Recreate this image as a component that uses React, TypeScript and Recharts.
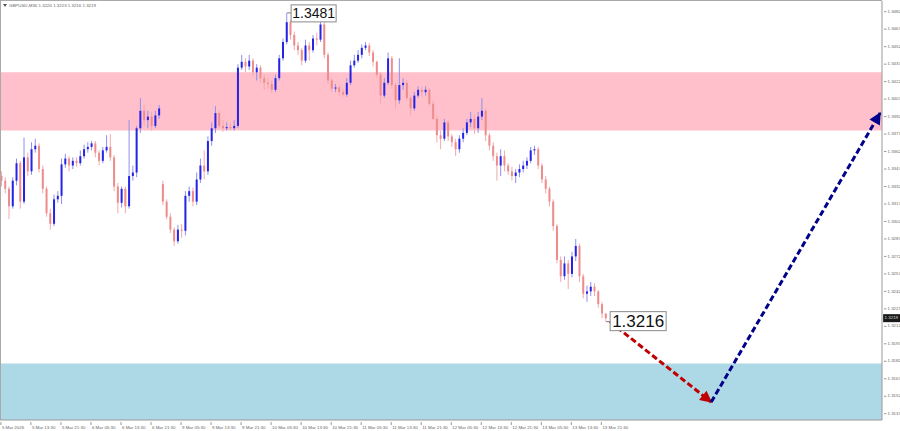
import React from 'react'
import { ComposedChart, Bar, Line, XAxis, YAxis, ReferenceArea, ReferenceDot } from 'recharts'

// hourly candles, 5 Mar 05:30 .. 13 Mar 23:00
const closes = [
  1.3337, 1.333, 1.3315, 1.3337, 1.3352, 1.3319, 1.3357, 1.3345, 1.3364, 1.3367,
  1.3347, 1.333, 1.3309, 1.33, 1.3321, 1.3324, 1.3351, 1.3356, 1.335, 1.3354,
  1.3352, 1.3358, 1.3364, 1.3366, 1.3369, 1.3361, 1.3354, 1.3363, 1.3366, 1.3357,
  1.3332, 1.3318, 1.333, 1.3315, 1.3341, 1.3344, 1.3382, 1.3397, 1.3389, 1.3392,
  1.3384, 1.3393, 1.3399, 1.3319, 1.3306, 1.3295, 1.3285, 1.3295, 1.3294, 1.3324,
  1.3328, 1.3319, 1.3338, 1.335, 1.3345, 1.3371, 1.3382, 1.3395, 1.3384, 1.3382,
  1.3383, 1.3382, 1.3384, 1.3434, 1.3439, 1.3435, 1.344, 1.343, 1.3434, 1.3425,
  1.3421, 1.342, 1.3415, 1.3425, 1.3442, 1.3456, 1.3473, 1.3462, 1.3453, 1.3449,
  1.344, 1.3453, 1.3449, 1.3459, 1.3458, 1.3471, 1.3445, 1.3423, 1.3416, 1.3417,
  1.3413, 1.3411, 1.3421, 1.3436, 1.344, 1.3445, 1.3451, 1.3453, 1.3447, 1.3439,
  1.3428, 1.341, 1.3421, 1.3442, 1.3419, 1.3406, 1.3419, 1.3421, 1.3408, 1.3399,
  1.341, 1.3415, 1.3413, 1.3415, 1.3403, 1.339, 1.3376, 1.3373, 1.3387, 1.3375,
  1.337, 1.3364, 1.3373, 1.3378, 1.3387, 1.339, 1.3382, 1.3392, 1.3397, 1.3376,
  1.3367, 1.3358, 1.335, 1.3358, 1.335, 1.3345, 1.3341, 1.3344, 1.3347, 1.335,
  1.3354, 1.3363, 1.3364, 1.335, 1.3338, 1.333, 1.3319, 1.3298, 1.3269, 1.3255,
  1.3266, 1.3257, 1.3272, 1.3281, 1.3255, 1.324, 1.3242, 1.3246, 1.3242, 1.3231,
  1.3223, 1.3219,
]

const highs = [
  1.3345, 1.334, 1.3332, 1.334, 1.3356, 1.3354, 1.3374, 1.3361, 1.337, 1.3373,
  1.3369, 1.335, 1.3332, 1.3313, 1.3325, 1.3328, 1.3356, 1.336, 1.3358, 1.3357,
  1.3357, 1.3363, 1.3368, 1.337, 1.3371, 1.3371, 1.3363, 1.3366, 1.3376, 1.3377,
  1.3359, 1.3335, 1.3332, 1.3332, 1.3389, 1.335, 1.3384, 1.3408, 1.3402, 1.3397,
  1.3396, 1.3397, 1.3402, 1.3337, 1.3321, 1.3309, 1.3297, 1.3299, 1.33, 1.3328,
  1.3332, 1.3331, 1.3344, 1.3356, 1.3363, 1.3375, 1.3387, 1.3401, 1.3397, 1.3389,
  1.3387, 1.3386, 1.3389, 1.3437, 1.3445, 1.3442, 1.3445, 1.3442, 1.3437, 1.3436,
  1.3428, 1.3425, 1.3423, 1.3428, 1.3445, 1.3459, 1.3481, 1.3475, 1.3465, 1.3456,
  1.3451, 1.3458, 1.3456, 1.3462, 1.3464, 1.3478, 1.3473, 1.3447, 1.3425, 1.342,
  1.3419, 1.3416, 1.3425, 1.344, 1.3445, 1.3449, 1.3454, 1.3456, 1.3455, 1.3449,
  1.344, 1.343, 1.3425, 1.3447, 1.3444, 1.3421, 1.3442, 1.3425, 1.3423, 1.341,
  1.3413, 1.3418, 1.3418, 1.3418, 1.3416, 1.3406, 1.3393, 1.338, 1.339, 1.3389,
  1.3377, 1.3373, 1.3376, 1.3382, 1.339, 1.3396, 1.3393, 1.3396, 1.3408, 1.3399,
  1.3378, 1.337, 1.3361, 1.3364, 1.3363, 1.3352, 1.3349, 1.3347, 1.3351, 1.3354,
  1.3357, 1.3366, 1.3367, 1.3366, 1.3352, 1.3341, 1.3332, 1.3321, 1.33, 1.3272,
  1.3272, 1.3269, 1.3276, 1.3287, 1.3283, 1.3257, 1.3247, 1.325, 1.3249, 1.3243,
  1.3233, 1.3223,
]

const lows = [
  1.3332, 1.3326, 1.3304, 1.3313, 1.3333, 1.3313, 1.3317, 1.3341, 1.3342, 1.3361,
  1.3344, 1.3326, 1.3306, 1.3295, 1.3298, 1.3318, 1.3317, 1.3348, 1.3345, 1.3347,
  1.3349, 1.335, 1.3356, 1.3361, 1.3363, 1.3357, 1.335, 1.3352, 1.3361, 1.3354,
  1.3328, 1.3309, 1.3314, 1.3309, 1.3313, 1.3337, 1.334, 1.3378, 1.3384, 1.3382,
  1.338, 1.3382, 1.339, 1.3316, 1.3304, 1.3292, 1.3281, 1.3283, 1.3288, 1.329,
  1.3319, 1.3315, 1.3316, 1.3335, 1.3338, 1.3342, 1.3367, 1.3378, 1.3382, 1.3379,
  1.338, 1.338, 1.338, 1.3382, 1.3432, 1.343, 1.3432, 1.3427, 1.3423, 1.3421,
  1.3415, 1.3416, 1.3412, 1.3413, 1.3423, 1.344, 1.3454, 1.3458, 1.3449, 1.3445,
  1.3436, 1.3438, 1.344, 1.3447, 1.3453, 1.3456, 1.3442, 1.342, 1.3413, 1.3413,
  1.341, 1.3409, 1.3409, 1.3419, 1.3434, 1.3438, 1.3442, 1.3449, 1.3444, 1.3435,
  1.3425, 1.3403, 1.3408, 1.3419, 1.3416, 1.3399, 1.3403, 1.3415, 1.3406, 1.3393,
  1.3397, 1.3408, 1.3409, 1.341, 1.3401, 1.3389, 1.337, 1.3364, 1.3371, 1.3371,
  1.3366, 1.3358, 1.3361, 1.337, 1.3376, 1.3383, 1.3377, 1.3378, 1.3389, 1.3371,
  1.3363, 1.3354, 1.3337, 1.3341, 1.3345, 1.3342, 1.3337, 1.3335, 1.334, 1.3344,
  1.3347, 1.3352, 1.3359, 1.3347, 1.3335, 1.3326, 1.3315, 1.3294, 1.3266, 1.325,
  1.3252, 1.3244, 1.3254, 1.3268, 1.325, 1.3236, 1.3233, 1.3238, 1.3238, 1.3228,
  1.3219, 1.3216,
]

const firstOpen = 1.3341
const weekendGapAt = 43
const weekendGapOpen = 1.3334

const timeLabels = [
  '5 Mar 2026', '5 Mar 13:30', '5 Mar 21:30', '6 Mar 05:30', '6 Mar 13:30', '6 Mar 21:30',
  '9 Mar 05:30', '9 Mar 13:30', '9 Mar 21:30', '10 Mar 05:30', '10 Mar 13:30', '10 Mar 21:30',
  '11 Mar 05:30', '11 Mar 13:30', '11 Mar 21:30', '12 Mar 05:30', '12 Mar 13:30', '12 Mar 21:30',
  '13 Mar 05:30', '13 Mar 13:30', '13 Mar 21:30',
]

const priceTicks = [
  1.3137, 1.3152, 1.3167, 1.3182, 1.3197, 1.3212, 1.3227, 1.3242, 1.3257, 1.3272, 1.3287, 1.3302,
  1.3317, 1.3332, 1.3347, 1.3362, 1.3377, 1.3392, 1.3407, 1.3422, 1.3437, 1.3452, 1.3467, 1.3482,
]

const resistanceZone = [1.338, 1.343]
const supportZone = [1.313, 1.318]

const forecastDown = [
  { slot: 162, price: 1.3216 },
  { slot: 189, price: 1.3147 },
]
const forecastUp = [
  { slot: 189, price: 1.3147 },
  { slot: 234, price: 1.3395 },
]

const peakMark = { slot: 76, price: 1.3481 }
const lowMark = { slot: 161, price: 1.3216 }

const symbol = 'GBPUSD,M30'
const lastBar = [1.322, 1.3223, 1.3216, 1.3219]
const bidPrice = 1.3219

const SLOTS = 235
const SLOTS_PER_LABEL = 8
const Y_DOMAIN: [number, number] = [1.31316, 1.34912]
const AXIS_FONT = 'Liberation Sans, Arial, sans-serif'

const rows = Array.from({ length: SLOTS }, (_, i) => {
  const row: any = { i }
  if (i < closes.length) {
    const open = i === 0 ? firstOpen : i === weekendGapAt ? weekendGapOpen : closes[i - 1]
    row.open = open
    row.close = closes[i]
    row.high = highs[i]
    row.low = lows[i]
    row.range = [lows[i], highs[i]]
  }
  const d = forecastDown.find((p) => p.slot === i)
  if (d) row.down = d.price
  const u = forecastUp.find((p) => p.slot === i)
  if (u) row.up = u.price
  return row
})

const xTicks = timeLabels.map((_, k) => k * SLOTS_PER_LABEL)

function Candle(props: any) {
  const { x, y, width, height, payload } = props
  if (payload == null || payload.high == null || height == null) return null
  const top = Math.min(y, y + height)
  const h = Math.abs(height)
  const { open, close, high, low } = payload
  const px = h / (high - low || 1e-6)
  const bodyTop = top + (high - Math.max(open, close)) * px
  const bodyBottom = top + (high - Math.min(open, close)) * px
  const cx = x + width / 2
  const bull = close >= open
  return (
    <g>
      <line x1={cx} x2={cx} y1={top} y2={top + h} stroke={bull ? '#8f8ff2' : '#f3a9a9'} strokeWidth={1} />
      <rect
        x={cx - 1}
        y={bodyTop}
        width={2}
        height={Math.max(bodyBottom - bodyTop, 1)}
        fill={bull ? '#2424e6' : '#ee8c8c'}
      />
    </g>
  )
}

function TimeTick({ x, y, payload }: any) {
  const label = timeLabels[payload.value / SLOTS_PER_LABEL]
  return (
    <g>
      <line x1={x - 1} x2={x - 1} y1={y} y2={y + 3} stroke="#999" />
      <text x={x} y={y + 5.5} fontSize={4.4} fill="#666" fontFamily={AXIS_FONT} dominantBaseline="middle">
        {label}
      </text>
    </g>
  )
}

function PriceTick({ x, y, payload }: any) {
  return (
    <g>
      <line x1={x} x2={x + 2.5} y1={y} y2={y} stroke="#999" />
      <text x={x + 3.5} y={y} fontSize={4.4} fill="#666" fontFamily={AXIS_FONT} dominantBaseline="middle">
        {payload.value.toFixed(4)}
      </text>
    </g>
  )
}

function PriceBox({ cx, cy, text, w, h, size, dx, dy }: any) {
  return (
    <g>
      <line x1={cx} x2={cx + dx} y1={cy} y2={cy} stroke="#777" />
      <rect x={cx + dx} y={cy + dy} width={w} height={h} fill="#fff" stroke="#8a8a8a" strokeWidth={1} />
      <text
        x={cx + dx + w / 2}
        y={cy + dy + h / 2 + 1}
        fontSize={size}
        fill="#111"
        fontFamily="Liberation Sans, Arial"
        textAnchor="middle"
        dominantBaseline="middle"
      >
        {text}
      </text>
    </g>
  )
}

function BidTag({ cx, cy }: any) {
  return (
    <g>
      <rect x={cx + 3} y={cy - 4} width={17} height={8} fill="#1a1a1a" />
      <text x={cx + 4.5} y={cy} fontSize={4.4} fill="#ddd" fontFamily={AXIS_FONT} dominantBaseline="middle">
        {bidPrice.toFixed(4)}
      </text>
    </g>
  )
}

export default function App() {
  return (
    <div style={{ position: 'absolute', left: 0, top: 0, width: 900, height: 431, background: '#fff', overflow: 'hidden' }}>
      <svg width={0} height={0} style={{ position: 'absolute' }}>
        <defs>
          <marker id="headRed" viewBox="0 0 10 10" refX="9" refY="5" markerUnits="userSpaceOnUse" markerWidth="14" markerHeight="12" orient="auto">
            <path d="M0,0 L10,5 L0,10 z" fill="#c00000" />
          </marker>
          <marker id="headBlue" viewBox="0 0 10 10" refX="9" refY="5" markerUnits="userSpaceOnUse" markerWidth="14" markerHeight="12" orient="auto">
            <path d="M0,0 L10,5 L0,10 z" fill="#00008b" />
          </marker>
        </defs>
      </svg>
      <ComposedChart width={900} height={431} data={rows} margin={{ top: 1, right: 0, bottom: 0, left: 0 }} barCategoryGap={0}>
        <ReferenceArea y1={resistanceZone[0]} y2={resistanceZone[1]} fill="#ffc0cb" fillOpacity={1} stroke="none" ifOverflow="hidden" />
        <ReferenceArea y1={supportZone[0]} y2={supportZone[1]} fill="#add8e6" fillOpacity={1} stroke="none" ifOverflow="hidden" />
        <XAxis
          dataKey="i"
          type="category"
          ticks={xTicks}
          interval={0}
          height={11}
          tickLine={false}
          tickSize={0}
          axisLine={{ stroke: '#999' }}
          tick={<TimeTick />}
        />
        <YAxis
          orientation="right"
          width={18}
          domain={Y_DOMAIN}
          allowDataOverflow
          ticks={priceTicks}
          interval={0}
          tickLine={false}
          tickSize={0}
          axisLine={{ stroke: '#999' }}
          tick={<PriceTick />}
        />
        <Bar dataKey="range" barSize={3} shape={<Candle />} isAnimationActive={false} />
        <Line
          dataKey="down"
          type="linear"
          connectNulls
          dot={false}
          stroke="#c00000"
          strokeWidth={3}
          strokeDasharray="6 3"
          markerEnd="url(#headRed)"
          isAnimationActive={false}
        />
        <Line
          dataKey="up"
          type="linear"
          connectNulls
          dot={false}
          stroke="#00008b"
          strokeWidth={3}
          strokeDasharray="6 3"
          markerEnd="url(#headBlue)"
          isAnimationActive={false}
        />
        <ReferenceDot
          x={peakMark.slot}
          y={peakMark.price}
          r={0}
          shape={(p: any) => <PriceBox cx={p.cx} cy={p.cy} text={peakMark.price.toFixed(4)} w={45} h={17} size={14} dx={4} dy={-8} />}
        />
        <ReferenceDot
          x={lowMark.slot}
          y={lowMark.price}
          r={0}
          shape={(p: any) => <PriceBox cx={p.cx} cy={p.cy} text={lowMark.price.toFixed(4)} w={56} h={19} size={17} dx={4} dy={-10} />}
        />
        <ReferenceDot x={SLOTS - 1} y={bidPrice} r={0} shape={(p: any) => <BidTag cx={p.cx} cy={p.cy} />} />
      </ComposedChart>
      <div
        style={{
          position: 'absolute',
          left: 0,
          top: 0,
          width: 882,
          height: 420,
          borderLeft: '1px solid #aaa',
          borderTop: '1px solid #aaa',
          boxSizing: 'border-box',
          pointerEvents: 'none',
        }}
      />
      <svg width={200} height={12} style={{ position: 'absolute', left: 0, top: 0 }}>
        <path d="M3,4 L7,4 L5,7 z" fill="#555" />
        <text x={9} y={6} fontSize={4.4} fill="#666" fontFamily={AXIS_FONT} dominantBaseline="middle">
          {symbol + '  ' + lastBar.map((v) => v.toFixed(4)).join(' ')}
        </text>
      </svg>
    </div>
  )
}
